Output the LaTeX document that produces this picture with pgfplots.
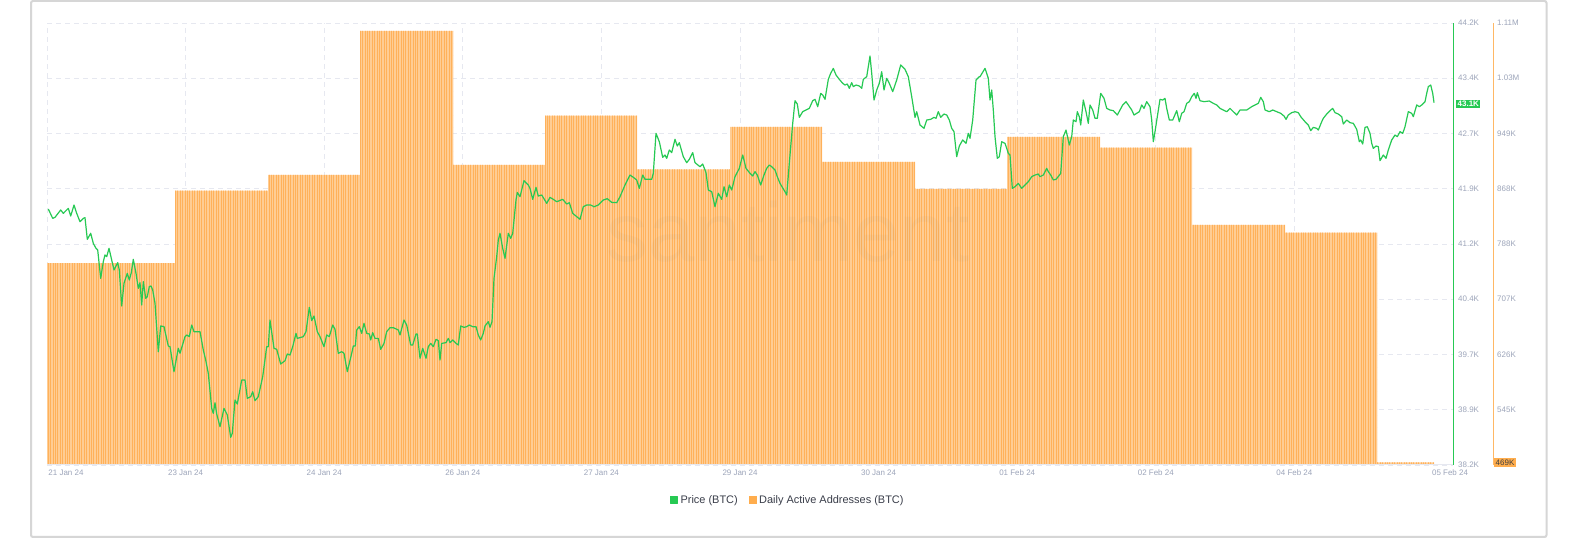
\documentclass[border=0pt]{standalone}
\usepackage{fontspec}
\setmainfont{Liberation Sans}
\usepackage{pgfplots}
\pgfplotsset{compat=1.18}
\usetikzlibrary{patterns.meta}
\definecolor{sgreen}{HTML}{26C953}
\definecolor{sorange}{HTML}{FFAD4D}
\definecolor{saxis}{HTML}{FFB865}
\definecolor{barlight}{HTML}{FFCD94}
\definecolor{bardark}{HTML}{FFB15A}
\definecolor{gridc}{HTML}{E6E8F0}
\definecolor{tickc}{HTML}{9DA5BA}
\definecolor{borderc}{HTML}{D6D6D6}
\definecolor{legtext}{HTML}{3A3E4A}
\begin{document}
\begin{tikzpicture}
\useasboundingbox (0,0) rectangle (1584bp,539bp);
\fill[white] (0,0) rectangle (1584bp,539bp);
\draw[borderc, line width=2bp, rounded corners=2bp] (31bp,2bp) rectangle (1546.5bp,538bp);
% ---------- addresses (bars) ----------
\begin{axis}[
  at={(47bp,74bp)}, anchor=south west,
  width=1406bp, height=442bp, scale only axis,
  xmin=47, xmax=1453, ymin=464.5, ymax=1110.5,
  axis line style={draw=none}, tick style={draw=none},
  clip mode=individual,
  xtick={66,185.6,324.2,462.8,601.4,740,878.6,1017.2,1155.8,1294.4,1450},
  xticklabels={21 Jan 24,23 Jan 24,24 Jan 24,26 Jan 24,27 Jan 24,29 Jan 24,30 Jan 24,01 Feb 24,02 Feb 24,04 Feb 24,05 Feb 24},
  xticklabel style={font=\fontsize{8}{9}\selectfont, text=tickc, inner sep=0pt, anchor=north, yshift=-5bp},
  extra x ticks={47,185.6,324.2,462.8,601.4,740,878.6,1017.2,1155.8,1294.4},
  extra x tick labels={},
  extra x tick style={grid=major},
  ytick={464.5,545.25,626,706.75,787.5,868.25,949,1029.75,1110.5},
  yticklabels={,545K,626K,707K,788K,868K,949K,1.03M,1.11M},
  yticklabel pos=right,
  yticklabel style={font=\fontsize{8}{9}\selectfont, text=tickc, inner sep=0pt, anchor=west, xshift=44bp},
  ymajorgrids,
  grid style={gridc, dash pattern=on 5bp off 4bp, line width=0.8bp},
]
\addplot[ybar interval, draw=none, fill=barlight,
  postaction={pattern={Lines[angle=90,distance=2.4bp,line width=0.6bp]}, pattern color=bardark}]
  coordinates {(47,759.7) (175,865.4) (268,888.4) (360,1098.8) (453,903.0) (545,975.0) (637,896.7) (730,958.5) (822,907.4) (915,867.9) (1007,943.9) (1100,928.3) (1192,815.3) (1285,804.0) (1377,468.4) (1434,468.4)};
\draw[gridc, line width=1bp] (rel axis cs:0,0) -- (rel axis cs:1,0);
\draw[saxis, line width=1bp] ([xshift=40bp]rel axis cs:1,0) -- ([xshift=40bp]rel axis cs:1,1);
\node[anchor=west, fill=sorange, inner sep=1.5bp, text=black!75, font=\fontsize{8}{9}\selectfont, xshift=41bp] at (axis cs:1453,468.4) {469K};
\end{axis}
\node[text=gray, opacity=0.05, font=\fontsize{84}{84}\selectfont] at (788bp,307bp) {santiment};
% ---------- price ----------
\begin{axis}[
  at={(47bp,74bp)}, anchor=south west,
  width=1406bp, height=442bp, scale only axis,
  xmin=47, xmax=1453, ymin=38.2, ymax=44.2,
  axis line style={draw=none}, tick style={draw=none},
  clip mode=individual,
  xtick=\empty,
  ytick={38.2,38.95,39.7,40.45,41.2,41.95,42.7,43.45,44.2},
  yticklabels={38.2K,38.9K,39.7K,40.4K,41.2K,41.9K,42.7K,43.4K,44.2K},
  yticklabel pos=right,
  yticklabel style={font=\fontsize{8}{9}\selectfont, text=tickc, inner sep=0pt, anchor=west, xshift=5bp},
  legend image code/.code={\fill[#1] (0bp,-3.5bp) rectangle (7bp,3.5bp);},
  legend style={at={(0.527,-0.079)}, anchor=center, draw=none, fill=none,
    font=\fontsize{11}{13}\selectfont, text=legtext, legend columns=2,
    nodes={inner sep=2.5bp},
    /tikz/every even column/.append style={column sep=9bp}},
]
\addplot[color=sgreen, line width=1.2bp, line join=round] coordinates {
(48.3,41.675) (52.7,41.548) (55.0,41.562) (60.7,41.662) (63.3,41.616) (68.3,41.684) (70.7,41.580) (74.0,41.729) (76.7,41.616) (80.0,41.503)
(83.3,41.548) (85.0,41.557) (87.3,41.263) (90.7,41.345) (93.3,41.209) (96.0,41.141) (97.7,41.119) (100.7,40.734) (103.3,40.960) (105.0,41.051)
(106.7,41.028) (109.0,41.141) (114.0,40.847) (117.7,40.947) (119.3,40.847) (121.7,40.358) (124.0,40.666) (127.3,40.802) (129.3,40.711) (131.3,40.811)
(133.3,40.992) (136.0,40.802) (138.3,40.598) (140.0,40.675) (141.7,40.372) (143.3,40.689) (145.7,40.462) (147.3,40.485) (149.3,40.621) (151.0,40.630)
(152.7,40.576) (155.0,40.395) (158.3,39.738) (160.7,40.087) (164.0,40.078) (168.3,39.815) (170.0,39.806) (174.0,39.467) (178.3,39.784) (180.0,39.716)
(185.0,39.942) (186.7,39.965) (189.3,39.942) (191.7,40.100) (194.0,40.010) (200.0,40.010) (203.3,39.761) (205.7,39.625) (208.3,39.444) (211.7,38.969)
(213.3,38.901) (215.0,39.046) (216.7,38.892) (220.0,38.720) (224.0,38.969) (227.3,38.879) (230.7,38.576) (232.3,38.630) (235.0,39.082) (237.3,39.028)
(241.7,39.354) (245.0,39.354) (247.3,39.105) (250.7,39.128) (252.7,39.195) (255.0,39.073) (258.3,39.128) (262.7,39.399) (266.7,39.806) (268.3,39.806)
(270.0,40.168) (274.0,39.784) (276.7,39.770) (280.7,39.571) (285.0,39.616) (287.3,39.707) (290.0,39.693) (292.7,39.806) (296.0,39.987) (297.3,39.919)
(303.3,39.942) (306.0,40.010) (309.3,40.340) (311.7,40.159) (314.0,40.223) (317.3,40.010) (320.0,39.942) (324.0,39.806) (326.7,39.965) (329.3,39.942)
(332.7,40.100) (335.0,40.042) (338.3,39.716) (341.7,39.738) (344.0,39.716) (347.3,39.467) (351.7,39.716) (353.3,39.815) (355.3,39.815) (356.7,40.033)
(359.3,40.078) (361.7,39.987) (364.0,40.123) (366.7,39.987) (369.3,39.978) (370.7,39.897) (372.7,39.996) (375.0,39.919) (378.3,39.919) (380.7,39.770)
(384.0,39.851) (386.7,40.010) (390.0,40.064) (393.3,40.064) (398.3,40.033) (400.0,39.965) (404.0,40.168) (406.7,40.100) (410.7,39.829) (412.7,39.829)
(416.0,39.978) (417.3,39.978) (420.0,39.648) (422.7,39.784) (426.0,39.648) (428.3,39.806) (430.7,39.851) (433.3,39.806) (436.0,39.906) (438.3,39.888)
(440.0,39.625) (441.7,39.851) (446.0,39.861) (448.3,39.919) (450.0,39.861) (452.7,39.897) (456.0,39.851) (458.3,39.829) (460.7,40.087) (464.0,40.069)
(466.7,40.078) (469.3,40.100) (472.7,40.078) (476.0,40.078) (478.3,39.965) (480.7,39.897) (483.3,39.987) (485.0,40.087) (488.3,40.146) (490.0,40.069)
(492.0,40.146) (494.0,40.734) (496.7,41.028) (498.3,41.254) (500.0,41.345) (502.7,41.141) (505.0,41.005) (508.3,41.345) (510.7,41.277) (512.7,41.345)
(516.0,41.797) (517.3,41.900) (520.0,41.842) (524.0,42.059) (528.3,42.001) (530.0,41.955) (532.7,41.806) (536.0,41.969) (538.3,41.851) (541.7,41.865)
(546.7,41.752) (550.0,41.833) (553.3,41.806) (556.7,41.774) (562.7,41.806) (566.7,41.743) (569.3,41.761) (572.7,41.616) (576.7,41.571) (580.0,41.535)
(583.3,41.706) (586.7,41.729) (590.7,41.729) (594.0,41.706) (598.3,41.729) (603.3,41.797) (607.3,41.815) (611.7,41.765) (616.7,41.761) (620.0,41.842)
(625.0,42.001) (630.0,42.136) (633.3,42.105) (636.7,42.069) (639.3,41.955) (642.7,42.136) (645.0,42.078) (651.7,42.078) (653.3,42.159) (656.0,42.702)
(659.3,42.589) (662.7,42.376) (665.0,42.408) (666.7,42.363) (669.3,42.476) (671.7,42.440) (675.0,42.621) (677.3,42.530) (679.3,42.575) (683.3,42.385)
(686.7,42.304) (689.3,42.349) (692.7,42.440) (695.0,42.304) (700.0,42.249) (702.7,42.286) (706.0,42.168) (708.3,41.933) (711.7,41.910) (715.0,41.706)
(718.3,41.888) (721.7,41.806) (724.0,41.978) (726.7,41.842) (729.3,42.001) (731.7,41.933) (735.0,42.114) (739.3,42.227) (742.7,42.408) (746.0,42.227)
(750.0,42.159) (752.7,42.123) (755.0,42.182) (757.3,42.136) (760.7,42.001) (764.0,42.136) (766.7,42.227) (769.3,42.272) (771.7,42.250) (775.0,42.205)
(777.3,42.114) (780.0,42.023) (785.0,41.910) (786.7,41.865) (790.0,42.408) (792.7,42.838) (795.0,43.145) (797.3,43.100) (799.3,42.919) (802.7,42.996)
(806.0,43.019) (809.3,43.041) (812.7,43.145) (815.0,43.164) (817.7,43.064) (820.7,43.245) (822.7,43.222) (825.0,43.164) (828.3,43.435) (830.7,43.517)
(833.3,43.584) (836.0,43.494) (839.3,43.435) (842.7,43.381) (845.0,43.358) (847.3,43.372) (849.3,43.313) (851.7,43.390) (853.3,43.336) (856.0,43.358)
(859.3,43.345) (861.7,43.313) (863.3,43.435) (866.7,43.471) (870.0,43.752) (871.7,43.517) (874.0,43.154) (876.7,43.290) (879.3,43.381) (881.7,43.539)
(884.0,43.290) (886.7,43.449) (889.3,43.381) (892.7,43.268) (896.7,43.426) (900.7,43.630) (905.0,43.571) (908.3,43.471) (911.7,43.200) (915.0,42.919)
(916.7,42.996) (920.0,42.815) (924.0,42.770) (926.7,42.883) (930.7,42.892) (934.0,42.919) (936.0,42.906) (938.3,42.996) (940.7,42.919) (944.0,42.964)
(946.7,42.951) (949.3,42.883) (951.7,42.770) (954.0,42.725) (956.7,42.385) (959.3,42.530) (962.7,42.612) (966.0,42.566) (968.3,42.702) (970.0,42.634)
(972.7,42.883) (976.0,43.426) (979.3,43.471) (980.0,43.471) (985.0,43.584) (988.3,43.449) (990.0,43.154) (991.7,43.290) (993.3,43.019) (995.0,42.657)
(997.3,42.363) (999.3,42.385) (1001.7,42.589) (1005.0,42.566) (1008.3,42.431) (1010.0,42.408) (1012.3,41.955) (1015.0,41.978) (1018.3,42.023) (1021.7,41.955)
(1025.0,42.001) (1028.3,42.046) (1031.7,42.114) (1035.0,42.136) (1038.3,42.150) (1040.0,42.114) (1043.3,42.136) (1046.7,42.227) (1048.3,42.182) (1050.7,42.136)
(1053.3,42.069) (1056.0,42.078) (1058.7,42.123) (1060.7,42.159) (1063.3,42.657) (1066.0,42.747) (1069.3,42.544) (1071.7,42.657) (1073.3,42.883) (1076.0,42.860)
(1077.3,42.996) (1079.3,42.928) (1080.7,42.815) (1083.3,43.154) (1086.0,42.996) (1088.3,42.838) (1090.0,43.087) (1092.7,43.019) (1095.0,42.906) (1097.3,42.906)
(1100.7,43.245) (1104.0,43.177) (1106.7,43.041) (1110.0,43.019) (1113.3,43.010) (1117.3,42.951) (1120.0,43.019) (1122.7,43.087) (1126.0,43.132) (1128.3,43.087)
(1131.7,43.019) (1134.0,42.951) (1136.7,42.974) (1139.3,42.996) (1141.7,43.087) (1144.0,43.041) (1146.7,43.132) (1150.0,43.064) (1151.7,42.883) (1153.3,42.589)
(1155.0,42.725) (1157.3,42.928) (1160.0,43.164) (1162.7,43.154) (1165.0,43.177) (1166.7,43.041) (1169.3,42.883) (1172.7,42.883) (1176.7,43.010) (1179.3,42.860)
(1181.7,42.974) (1184.0,42.996) (1186.7,43.109) (1189.3,43.132) (1191.7,43.200) (1194.3,43.245) (1196.0,43.177) (1197.3,43.254) (1200.0,43.145) (1204.0,43.132)
(1209.3,43.141) (1213.3,43.109) (1216.7,43.087) (1220.0,43.041) (1226.7,42.996) (1230.0,43.041) (1233.3,42.996) (1236.7,42.951) (1240.0,43.019) (1246.7,43.019)
(1251.7,43.064) (1255.0,43.087) (1258.3,43.109) (1260.7,43.191) (1263.3,43.132) (1265.0,43.019) (1269.3,42.996) (1272.7,43.019) (1276.7,42.996) (1280.7,42.974)
(1284.0,42.937) (1286.0,42.892) (1288.3,42.951) (1291.7,42.983) (1295.0,42.996) (1298.3,42.983) (1300.7,42.928) (1305.0,42.860) (1308.3,42.815) (1310.7,42.738)
(1313.3,42.783) (1316.7,42.770) (1318.3,42.747) (1321.7,42.860) (1323.3,42.906) (1326.7,42.964) (1330.0,43.010) (1332.7,43.041) (1335.0,42.983) (1338.3,42.964)
(1341.7,42.928) (1343.3,42.829) (1346.7,42.883) (1350.0,42.847) (1353.3,42.838) (1356.7,42.756) (1359.3,42.589) (1360.7,42.612) (1362.7,42.557) (1365.0,42.783)
(1367.3,42.792) (1370.0,42.702) (1371.7,42.566) (1373.3,42.498) (1376.0,42.530) (1378.3,42.521) (1380.0,42.331) (1383.3,42.408) (1386.0,42.363) (1388.3,42.476)
(1391.7,42.612) (1395.0,42.679) (1397.3,42.657) (1400.0,42.725) (1402.7,42.702) (1405.0,42.792) (1408.3,42.996) (1411.7,42.974) (1413.3,42.928) (1416.7,43.087)
(1419.3,43.064) (1421.7,43.087) (1425.0,43.132) (1426.7,43.245) (1428.3,43.336) (1430.7,43.358) (1432.7,43.245) (1434.0,43.118)
};
\addlegendentry{Price (BTC)}
\addlegendimage{color=sorange}
\addlegendentry{Daily Active Addresses (BTC)}
\draw[sgreen, line width=1bp] (rel axis cs:1,0) -- (rel axis cs:1,1);
\node[anchor=west, fill=sgreen, inner sep=1.5bp, text=white, font=\fontsize{8}{9}\selectfont\bfseries, xshift=3bp] at (axis cs:1453,43.1) {43.1K};
\end{axis}
\end{tikzpicture}
\end{document}
